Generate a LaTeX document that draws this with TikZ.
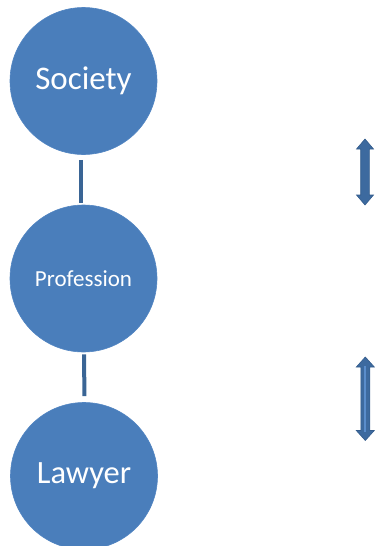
\documentclass[tikz,border=0pt]{standalone}
\usepackage{fontspec}
\setmainfont{Carlito}
\definecolor{circfill}{HTML}{4A7EBB}
\definecolor{circedge}{HTML}{5285C2}
\definecolor{linkcol}{HTML}{3A6595}
\definecolor{arrfill}{HTML}{3D6A9F}
\definecolor{arredge}{HTML}{345C8C}
\definecolor{arrlight}{HTML}{5A8DCB}
\tikzset{
  bubble/.style={circle, fill=circfill, draw=circedge, line width=0.6pt, minimum size=147pt, inner sep=0pt, text=white},
  link/.style={draw=linkcol, line width=4pt},
  arrowshape/.style={fill=arrfill, draw=arredge, line width=0.6pt, line join=miter}
}
\begin{document}
\begin{tikzpicture}[x=1pt,y=-1pt]
\useasboundingbox (0,0) rectangle (375,546);
\clip (0,0) rectangle (375,546);
\node[bubble] (soc) at (83.5,81) {\fontsize{33}{33}\selectfont Society};
\node[bubble] (prof) at (83.5,278.5) {\fontsize{23}{23}\selectfont Profession};
\node[bubble] (law) at (84,476) {\fontsize{32.5}{32.5}\selectfont Lawyer};
\draw[link, shorten <=5pt, shorten >=2pt] ([xshift=-2.5pt]soc.south) -- ([xshift=-2.5pt]prof.north);
\draw[link, shorten <=2pt, shorten >=6pt] ([xshift=0.5pt]prof.south) -- ([xshift=0.5pt]law.north);
% upper double arrow
\draw[arrowshape] (365,139) -- (373.5,149) -- (369.3,149) -- (369.3,195) -- (373.5,195) -- (365,205)
  -- (356.5,195) -- (360.7,195) -- (360.7,149) -- (356.5,149) -- cycle;
% lower double arrow
\draw[arrowshape] (365.3,357) -- (374.3,367) -- (369.8,367) -- (369.8,430.5) -- (374.3,430.5) -- (365.3,440.5)
  -- (356.3,430.5) -- (360.8,430.5) -- (360.8,367) -- (356.3,367) -- cycle;
\draw[arrlight, line width=2.2pt] (365.3,366) -- (365.3,431.5);
\end{tikzpicture}
\end{document}
